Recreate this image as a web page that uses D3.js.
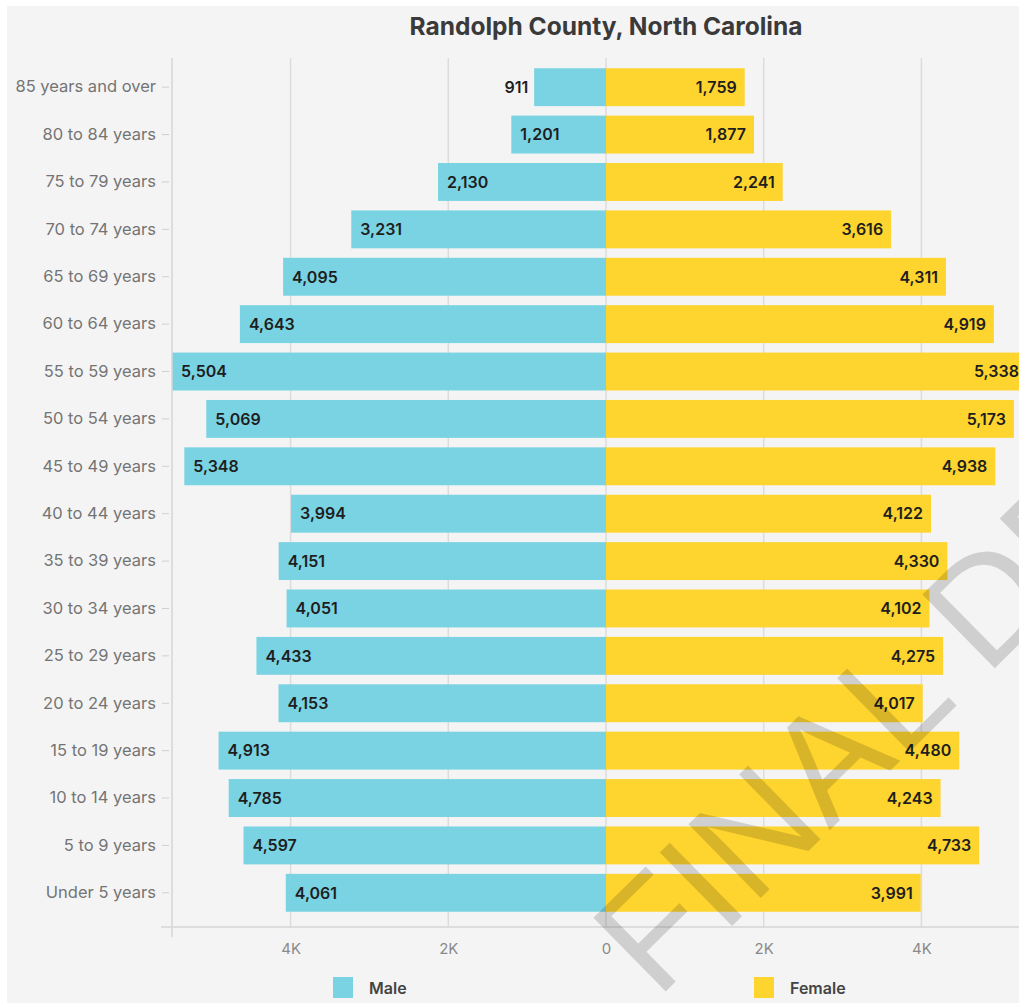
<!DOCTYPE html>
<html>
<head>
<meta charset="utf-8">
<script src="https://cdn.jsdelivr.net/npm/d3@7"></script>
<style>
  html, body { margin: 0; padding: 0; background: #ffffff; }
  svg { display: block; }
</style>
</head>
<body>
<svg id="chart" width="1019" height="1003"></svg>
<script>
const ageGroups = ["85 years and over","80 to 84 years","75 to 79 years","70 to 74 years","65 to 69 years","60 to 64 years","55 to 59 years","50 to 54 years","45 to 49 years","40 to 44 years","35 to 39 years","30 to 34 years","25 to 29 years","20 to 24 years","15 to 19 years","10 to 14 years","5 to 9 years","Under 5 years"];
const maleValues = [911,1201,2130,3231,4095,4643,5504,5069,5348,3994,4151,4051,4433,4153,4913,4785,4597,4061];
const femaleValues = [1759,1877,2241,3616,4311,4919,5338,5173,4938,4122,4330,4102,4275,4017,4480,4243,4733,3991];
const xTicks = [-4000,-2000,0,2000,4000];
const seriesNames = ["Male","Female"];
const seriesColors = ["#7AD3E2","#FED42F"];
const titleText = "Randolph County, North Carolina";
const watermarkText = "FINAL DRAFT";

const svg = d3.select("#chart");
const W = 1019, H = 1003;
const font = "Inter, 'Noto Sans', sans-serif";

// background
svg.append("rect").attr("x",0).attr("y",0).attr("width",W).attr("height",H).attr("fill","#ffffff");
svg.append("rect").attr("x",7).attr("y",6).attr("width",W-7).attr("height",H-6).attr("fill","#f4f4f4");

const maxV = d3.max(maleValues.concat(femaleValues));
const x = d3.scaleLinear().domain([-maxV, maxV]).range([172, 1040]);
const y = d3.scaleBand().domain(ageGroups).range([63.5, 916.5]).paddingInner(0.2).paddingOuter(0.1);

// title
svg.append("text").attr("x", x(0)).attr("y", 35).attr("text-anchor","middle")
  .attr("font-family", font).attr("font-size", 24.5).attr("font-weight", 700)
  .attr("fill","#3a3a3a").text(titleText);

// gridlines
svg.append("g").selectAll("line").data(xTicks).join("line")
  .attr("x1", d => x(d)).attr("x2", d => x(d)).attr("y1", 58).attr("y2", 927)
  .attr("stroke", "#dcdcdc").attr("stroke-width", 1.5);

// bars
const rows = ageGroups.map((g,i) => ({g, m: maleValues[i], f: femaleValues[i]}));
const gBars = svg.append("g");
gBars.selectAll("rect.m").data(rows).join("rect").attr("class","m")
  .attr("x", d => x(-d.m)).attr("width", d => x(0) - x(-d.m))
  .attr("y", d => y(d.g)).attr("height", y.bandwidth()).attr("fill", seriesColors[0]);
gBars.selectAll("rect.f").data(rows).join("rect").attr("class","f")
  .attr("x", x(0)).attr("width", d => x(d.f) - x(0))
  .attr("y", d => y(d.g)).attr("height", y.bandwidth()).attr("fill", seriesColors[1]);

const fmt = d3.format(",");
const gLab = svg.append("g").attr("font-family", font).attr("font-size", 16).attr("font-weight", 600).attr("fill", "#1e1e1e");
gLab.selectAll("text.m").data(rows).join("text").attr("class","m")
  .attr("x", d => (x(0) - x(-d.m)) < 80 ? x(-d.m) - 6 : x(-d.m) + 9)
  .attr("text-anchor", d => (x(0) - x(-d.m)) < 80 ? "end" : "start")
  .attr("y", d => y(d.g) + y.bandwidth()/2).attr("dy","0.36em")
  .text(d => fmt(d.m));
gLab.selectAll("text.f").data(rows).join("text").attr("class","f")
  .attr("x", d => x(d.f) - 8).attr("text-anchor","end")
  .attr("y", d => y(d.g) + y.bandwidth()/2).attr("dy","0.36em")
  .text(d => fmt(d.f));

// y axis
const yAxis = svg.append("g").attr("transform", "translate(172,0)")
  .call(d3.axisLeft(y).tickSize(8).tickPadding(6));
yAxis.select(".domain").remove();
yAxis.selectAll(".tick line").attr("stroke","#cfcfcf").attr("x1",-10).attr("x2",-3);
yAxis.selectAll(".tick text").attr("font-family", font).attr("font-size", 16.5).attr("fill","#747474").attr("x",-16);
svg.append("line").attr("x1",172).attr("x2",172).attr("y1",58).attr("y2",937).attr("stroke","#d6d6d6").attr("stroke-width",1.5);

// x axis
const xAxis = svg.append("g").attr("transform","translate(0,927)")
  .call(d3.axisBottom(x).tickValues(xTicks).tickSize(0).tickPadding(16)
    .tickFormat(d => d === 0 ? "0" : (Math.abs(d)/1000) + "K"));
xAxis.select(".domain").remove();
xAxis.selectAll(".tick text").attr("font-family", font).attr("font-size", 15).attr("fill","#8a8a8a");
svg.append("line").attr("x1",161).attr("x2",1040).attr("y1",927).attr("y2",927).attr("stroke","#d6d6d6").attr("stroke-width",1.5);

// legend
const legendX = [333, 754];
const lg = svg.append("g").selectAll("g").data(seriesNames).join("g")
  .attr("transform", (d,i) => `translate(${legendX[i]},977)`);
lg.append("rect").attr("width",20).attr("height",21).attr("fill",(d,i) => seriesColors[i]);
lg.append("text").attr("x",36).attr("y",11).attr("dy","0.36em")
  .attr("font-family", font).attr("font-size", 16).attr("font-weight", 600).attr("fill","#444")
  .text(d => d);

// watermark
svg.append("text").attr("transform","translate(657,1000) rotate(-44.5)")
  .attr("font-family","'Liberation Sans', Arial, sans-serif").attr("font-size",150)
  .attr("fill","rgba(0,0,0,0.15)").text(watermarkText);
</script>
</body>
</html>
